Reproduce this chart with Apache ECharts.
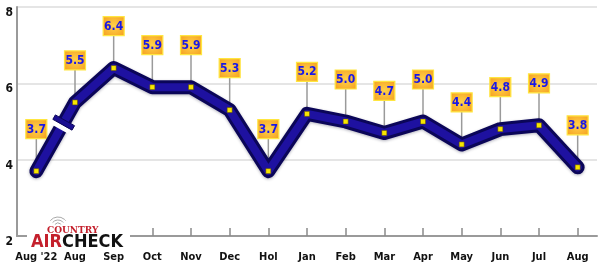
<!DOCTYPE html>
<html><head><meta charset="utf-8">
<script src="https://cdn.jsdelivr.net/npm/echarts@6/dist/echarts.min.js"></script>
<style>html,body{margin:0;padding:0;background:#fff}#c{width:600px;height:269px}</style>
</head><body><div id="c"></div>
<script>
const categories = ["Aug '22","Aug","Sep","Oct","Nov","Dec","Hol","Jan","Feb","Mar","Apr","May","Jun","Jul","Aug"];
const values = [3.7,5.5,6.4,5.9,5.9,5.3,3.7,5.2,5.0,4.7,5.0,4.4,4.8,4.9,3.8];
const yTicks = [2,4,6,8];
const breakBetween = [0,1];

const FONT = '"DejaVu Sans Condensed"';
const chart = echarts.init(document.getElementById('c'), null, {renderer:'canvas'});
const labelData = values.map((v,i)=>[i,v]);

chart.setOption({
  animation:false,
  grid:{left:17,right:3,top:7,bottom:33},
  xAxis:{
    type:'category', data:categories, boundaryGap:true,
    axisLine:{lineStyle:{color:'#9a9a9a',width:2}},
    axisTick:{show:true,alignWithLabel:true,inside:true,length:8,lineStyle:{color:'#8a8a8a',width:1.5}},
    axisLabel:{color:'#111',fontFamily:'DejaVu Sans Condensed',fontWeight:'bold',fontSize:11,margin:16,interval:0},
    splitLine:{show:false}
  },
  yAxis:{
    type:'value', min:yTicks[0], max:yTicks[yTicks.length-1], interval:2,
    axisLine:{show:true,lineStyle:{color:'#9a9a9a',width:2}},
    axisTick:{show:false},
    axisLabel:{color:'#111',fontFamily:'DejaVu Sans Condensed',fontWeight:'bold',fontSize:12,margin:4,verticalAlign:'top'},
    splitLine:{lineStyle:{color:'#dcdcdc',width:1.5}}
  },
  series:[
    {
      type:'custom', z:1, data:labelData, coordinateSystem:'cartesian2d',
      renderItem:function(params,api){
        const p = api.coord([api.value(0),api.value(1)]);
        const cy = p[1]-42;
        const w=21,h=19;
        return {type:'group',children:[
          {type:'line',shape:{x1:p[0],y1:p[1],x2:p[0],y2:cy+h/2},style:{stroke:'#9a9a9a',lineWidth:1.5}},
          {type:'rect',shape:{x:p[0]-w/2,y:cy-h/2,width:w,height:h},
           style:{fill:new echarts.graphic.RadialGradient(0.5,0.5,0.7,[{offset:0,color:'#ffd24a'},{offset:1,color:'#f5a020'}]),stroke:'#ffe640',lineWidth:1.2}},
          {type:'text',style:{text:api.value(1).toFixed(1),x:p[0],y:cy+0.5,align:'center',verticalAlign:'middle',
            fill:'#1818e8',font:'bold 12px ' + FONT}}
        ]};
      }
    },
    {
      type:'line', z:2, data:values, symbol:'none',
      lineStyle:{color:'#0b0658',width:14,cap:'round',join:'round',shadowColor:'rgba(0,0,40,0.3)',shadowBlur:3,shadowOffsetY:1}
    },
    {
      type:'line', z:3, data:values, symbol:'rect', symbolSize:5,
      itemStyle:{color:'#f7e600',borderColor:'#5a4a00',borderWidth:0.5},
      lineStyle:{color:'#1e11a0',width:8,cap:'round',join:'round'}
    },
    {
      type:'custom', z:4, data:[breakBetween], coordinateSystem:'cartesian2d',
      renderItem:function(params,api){
        const a = api.value(0), b = api.value(1);
        const p0 = api.coord([a,values[a]]), p1 = api.coord([b,values[b]]);
        const dx=p1[0]-p0[0], dy=p1[1]-p0[1], L=Math.hypot(dx,dy);
        const ux=dx/L, uy=dy/L, nx=-uy, ny=ux;
        function quad(t1,t2,hw){
          const c1=[p0[0]+dx*t1,p0[1]+dy*t1], c2=[p0[0]+dx*t2,p0[1]+dy*t2];
          return [[c1[0]+nx*hw,c1[1]+ny*hw],[c2[0]+nx*hw,c2[1]+ny*hw],[c2[0]-nx*hw,c2[1]-ny*hw],[c1[0]-nx*hw,c1[1]-ny*hw]];
        }
        return {type:'group',children:[
          {type:'polygon',shape:{points:quad(0.61,0.675,9)},style:{fill:'#fff'}},
          {type:'polygon',shape:{points:quad(0.675,0.74,11)},style:{fill:'#1a0e90',stroke:'#0b0658',lineWidth:1}}
        ]};
      }
    }
  ],
  graphic:[
    {type:'rect',left:27,top:226,shape:{width:103,height:14},style:{fill:'#fff'},z:10},
    {type:'arc',shape:{cx:58,cy:227,r:10,startAngle:-Math.PI*0.78,endAngle:-Math.PI*0.22},style:{stroke:'#a8a8a8',lineWidth:1,fill:null},z:11},
    {type:'arc',shape:{cx:58,cy:227,r:7,startAngle:-Math.PI*0.78,endAngle:-Math.PI*0.22},style:{stroke:'#a8a8a8',lineWidth:1,fill:null},z:11},
    {type:'arc',shape:{cx:58,cy:227,r:4,startAngle:-Math.PI*0.78,endAngle:-Math.PI*0.22},style:{stroke:'#a8a8a8',lineWidth:1,fill:null},z:11},
    {type:'text',left:47,top:225,style:{text:'COUNTRY',fill:'#c4202c',font:'bold 10px "DejaVu Serif Condensed"'},z:11},
    {type:'text',left:31,top:233,style:{rich:{a:{fill:'#c4202c',font:'bold 18px ' + FONT},b:{fill:'#111',font:'bold 18px ' + FONT}},text:'{a|AIR}{b|CHECK}'},z:11}
  ]
});
</script></body></html>
